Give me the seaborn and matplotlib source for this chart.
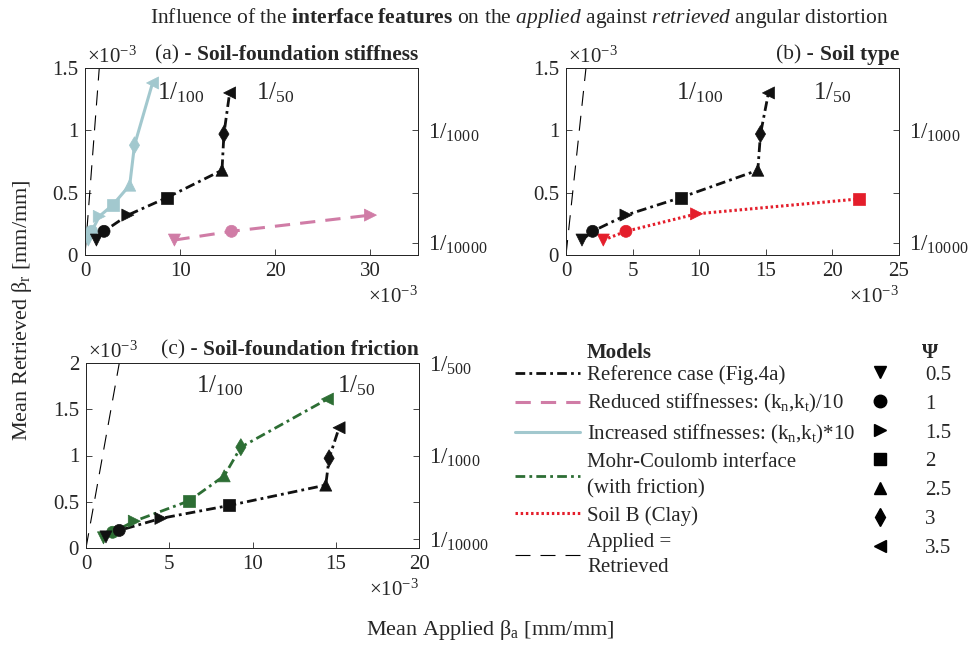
import matplotlib
matplotlib.use("Agg")
import matplotlib.pyplot as plt
from matplotlib.lines import Line2D
import seaborn as sns

# --- data (values in units of 1e-3) ---
psi_full = [0.5, 1.0, 1.5, 2.0, 2.5, 3.0, 3.5]

ref_applied = [1.2, 2.0, 4.5, 8.6, 14.4, 14.6, 15.2]
ref_retrieved = [0.12, 0.19, 0.32, 0.46, 0.68, 0.97, 1.30]

psi_reduced = [0.5, 1.0, 1.5]
reduced_applied = [9.4, 15.4, 30.0]
reduced_retrieved = [0.12, 0.19, 0.32]

increased_applied = [0.35, 0.7, 1.5, 2.9, 4.7, 5.2, 7.1]
increased_retrieved = [0.12, 0.19, 0.31, 0.40, 0.56, 0.88, 1.38]

mc_applied = [1.05, 1.6, 2.9, 6.2, 8.3, 9.3, 14.5]
mc_retrieved = [0.11, 0.17, 0.29, 0.51, 0.78, 1.09, 1.61]

psi_clay = [0.5, 1.0, 1.5, 2.0]
clay_applied = [2.8, 4.5, 9.8, 22.0]
clay_retrieved = [0.12, 0.19, 0.33, 0.45]

identity = [0.0, 2.0]

psi_markers = {0.5: "v", 1.0: "o", 1.5: ">", 2.0: "s", 2.5: "^", 3.0: "d", 3.5: "<"}

BLACK = "#111111"
PINK = "#D07CA6"
LIGHTBLUE = "#A2C8CE"
GREEN = "#2D6E34"
RED = "#E41E2B"

REF_LS = (0, (3.5, 1.5, 1, 1.5))
REDUCED_LS = (0, (5, 3.3))
MC_LS = (0, (3.5, 1.5, 1, 1.5))
CLAY_LS = (0, (0.8, 0.9))
IDENT_LS = (0, (13.5, 9))

FS = 15

sns.set_style("ticks")
plt.rcParams["font.family"] = ["Liberation Serif", "DejaVu Serif"]
plt.rcParams["mathtext.fontset"] = "custom"
plt.rcParams["mathtext.rm"] = "Liberation Serif"
plt.rcParams["mathtext.it"] = "Liberation Serif:italic"
plt.rcParams["mathtext.bf"] = "Liberation Serif:bold"
plt.rcParams["font.size"] = FS
plt.rcParams["axes.linewidth"] = 0.7


def draw_case(ax, applied, retrieved, psi, color, ls, lw):
    sns.lineplot(x=applied, y=retrieved, ax=ax, color=color, lw=lw,
                 linestyle=ls, sort=False, estimator=None, zorder=2)
    sns.scatterplot(x=applied, y=retrieved, style=psi, markers=psi_markers,
                    color=color, edgecolor=color, s=75, linewidth=0.5,
                    legend=False, ax=ax, zorder=3)


def style_panel(ax, xmax, xticks, ymax, yticks, rticks, rlabels, title, prefix):
    ax.set_xlim(0, xmax)
    ax.set_ylim(0, ymax)
    ax.set_xticks(xticks)
    ax.set_xticklabels([f"{v:g}" for v in xticks])
    ax.set_yticks(yticks)
    ax.set_yticklabels([f"{v:g}" for v in yticks])
    ax.set_xlabel("")
    ax.set_ylabel("")
    ax.tick_params(direction="in", length=4, width=0.6, labelsize=FS, pad=5)
    ax2 = ax.twinx()
    ax2.set_ylim(0, ymax)
    ax2.set_yticks(rticks)
    ax2.set_yticklabels(rlabels)
    ax2.tick_params(direction="in", length=4, width=0.6, labelsize=16.5, pad=7)
    t = ax.set_title(title, loc="right", fontweight="bold", fontsize=15.5, pad=6)
    ax.annotate(prefix, xy=(0, 0), xycoords=t, ha="right", va="bottom",
                fontsize=15.5)
    ax.text(0.005, 1.0, r"$\times10^{-3}$", transform=ax.transAxes,
            ha="left", va="bottom", fontsize=FS)
    ax.text(1.0, -0.17, r"$\times10^{-3}$", transform=ax.transAxes,
            ha="right", va="top", fontsize=FS)


fig = plt.figure(figsize=(9.71, 6.45), dpi=100)
ax_a = fig.add_axes([85 / 971, 1 - 255 / 645, 333 / 971, 187 / 645])
ax_b = fig.add_axes([566 / 971, 1 - 255 / 645, 333 / 971, 187 / 645])
ax_c = fig.add_axes([86 / 971, 1 - 548 / 645, 333 / 971, 185 / 645])

for ax in (ax_a, ax_b, ax_c):
    sns.lineplot(x=identity, y=identity, ax=ax, color="black", lw=0.8,
                 linestyle=IDENT_LS, zorder=1)

# (a) soil-foundation stiffness
draw_case(ax_a, reduced_applied, reduced_retrieved, psi_reduced, PINK, REDUCED_LS, 2.2)
draw_case(ax_a, increased_applied, increased_retrieved, psi_full, LIGHTBLUE, "-", 2.2)
draw_case(ax_a, ref_applied, ref_retrieved, psi_full, BLACK, REF_LS, 2.0)
ax_a.text(10, 1.3, r"$1/_{100}$", ha="center", va="center", fontsize=18)
ax_a.text(20, 1.3, r"$1/_{50}$", ha="center", va="center", fontsize=18)
style_panel(ax_a, 35, [0, 10, 20, 30], 1.5, [0, 0.5, 1, 1.5],
            [0.1, 0.5, 1, 1.5], [r"$1/_{10000}$", "", r"$1/_{1000}$", ""],
            "Soil-foundation stiffness", "(a) - ")

# (b) soil type
draw_case(ax_b, clay_applied, clay_retrieved, psi_clay, RED, CLAY_LS, 2.2)
draw_case(ax_b, ref_applied, ref_retrieved, psi_full, BLACK, REF_LS, 2.0)
ax_b.text(10, 1.3, r"$1/_{100}$", ha="center", va="center", fontsize=18)
ax_b.text(20, 1.3, r"$1/_{50}$", ha="center", va="center", fontsize=18)
style_panel(ax_b, 25, [0, 5, 10, 15, 20, 25], 1.5, [0, 0.5, 1, 1.5],
            [0.1, 0.5, 1, 1.5], [r"$1/_{10000}$", "", r"$1/_{1000}$", ""],
            "Soil type", "(b) - ")

# (c) soil-foundation friction
draw_case(ax_c, mc_applied, mc_retrieved, psi_full, GREEN, MC_LS, 2.0)
draw_case(ax_c, ref_applied, ref_retrieved, psi_full, BLACK, REF_LS, 2.0)
ax_c.text(8, 1.75, r"$1/_{100}$", ha="center", va="center", fontsize=18)
ax_c.text(16.2, 1.75, r"$1/_{50}$", ha="center", va="center", fontsize=18)
style_panel(ax_c, 20, [0, 5, 10, 15, 20], 2, [0, 0.5, 1, 1.5, 2],
            [0.1, 0.5, 1, 1.5, 2],
            [r"$1/_{10000}$", "", r"$1/_{1000}$", "", r"$1/_{500}$"],
            "Soil-foundation friction", "(c) - ")

# legends
model_handles = [
    Line2D([], [], color=BLACK, lw=2.0, linestyle=REF_LS),
    Line2D([], [], color=PINK, lw=2.2, linestyle=REDUCED_LS),
    Line2D([], [], color=LIGHTBLUE, lw=2.2, linestyle="-"),
    Line2D([], [], color=GREEN, lw=2.0, linestyle=MC_LS),
    Line2D([], [], color=RED, lw=2.2, linestyle=CLAY_LS),
    Line2D([], [], color="black", lw=0.8, linestyle=IDENT_LS),
]
model_labels = [
    "Reference case (Fig.4a)",
    r"Reduced stiffnesses: (k$_\mathrm{n}$,k$_\mathrm{t}$)/10",
    r"Increased stiffnesses: (k$_\mathrm{n}$,k$_\mathrm{t}$)*10",
    "Mohr-Coulomb interface\n(with friction)",
    "Soil B (Clay)",
    "Applied =\nRetrieved",
]
leg = fig.legend(model_handles, model_labels, loc="upper left",
                 bbox_to_anchor=(515 / 971, 1 - 365 / 645), frameon=False,
                 borderpad=0, borderaxespad=0, handlelength=3.1,
                 handletextpad=0.35, labelspacing=0.36, fontsize=FS)
for txt in leg.get_texts():
    txt.set_linespacing(1.45)

psi_handles = [Line2D([], [], color="black", marker=psi_markers[p], ls="none",
                      markersize=9) for p in psi_full]
fig.legend(psi_handles, [f"{p:g}" for p in psi_full], loc="upper left",
           bbox_to_anchor=(870 / 971, 1 - 365 / 645), frameon=False,
           borderpad=0, borderaxespad=0, handlelength=1.0, handletextpad=1.65,
           labelspacing=0.45, fontsize=FS)

fig.text(587 / 971, 1 - 353 / 645, "Models", fontweight="bold", va="center",
         fontsize=FS)
fig.text(922 / 971, 1 - 353 / 645, "Ψ", fontweight="bold", va="center",
         fontsize=FS)

fig.text(519 / 971, 1 - 18 / 645,
         r"Influence of the $\mathbf{interface\ features}$ on the "
         r"$\mathit{applied}$ against $\mathit{retrieved}$ angular distortion",
         ha="center", va="center", fontsize=15.5)
fig.text(22 / 971, 1 - 310 / 645, r"Mean Retrieved β$_\mathrm{r}$ [mm/mm]",
         rotation=90, ha="center", va="center", fontsize=16)
fig.text(490 / 971, 1 - 630 / 645, r"Mean Applied β$_\mathrm{a}$ [mm/mm]",
         ha="center", va="center", fontsize=16)

fig.savefig("out.png", dpi=100)
